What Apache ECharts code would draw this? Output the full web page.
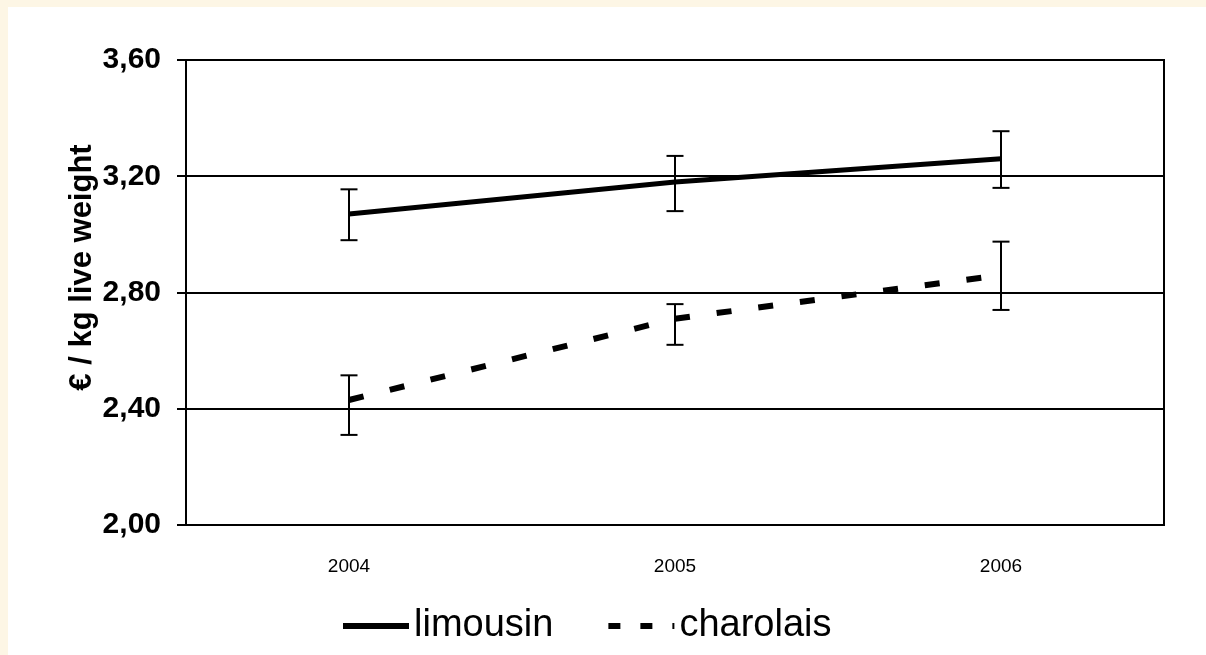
<!DOCTYPE html>
<html>
<head>
<meta charset="utf-8">
<script src="https://cdn.jsdelivr.net/npm/echarts@6/dist/echarts.min.js"></script>
<style>
  html, body { margin: 0; padding: 0; background: #fdf6e5; width: 1206px; height: 655px; overflow: hidden; }
  #chart { position: absolute; left: 8px; top: 7px; width: 1198px; height: 648px; background: #fff; }
</style>
</head>
<body>
<div id="chart"></div>
<script>
// data
var years = ['2004', '2005', '2006'];
var limousin = [3.07, 3.18, 3.26];
var limousinLow = [2.98, 3.08, 3.16];
var limousinHigh = [3.155, 3.27, 3.355];
var charolais = [2.43, 2.71, 2.86];
var charolaisLow = [2.31, 2.62, 2.74];
var charolaisHigh = [2.515, 2.76, 2.975];

function errData(low, high) {
    var res = [];
    for (var i = 0; i < low.length; i++) {
        res.push([i, low[i], high[i]]);
    }
    return res;
}

// error bar: vertical line with caps
function renderErr(params, api) {
    var x = api.value(0);
    var lo = api.coord([x, api.value(1)]);
    var hi = api.coord([x, api.value(2)]);
    var half = 8.5;
    var style = { stroke: '#000', lineWidth: 2 };
    return {
        type: 'group',
        children: [
            { type: 'line', shape: { x1: hi[0], y1: hi[1], x2: lo[0], y2: lo[1] }, style: style },
            { type: 'line', shape: { x1: hi[0] - half, y1: hi[1], x2: hi[0] + half, y2: hi[1] }, style: style },
            { type: 'line', shape: { x1: lo[0] - half, y1: lo[1], x2: lo[0] + half, y2: lo[1] }, style: style }
        ]
    };
}

var chart = echarts.init(document.getElementById('chart'));
var option = {
    animation: false,
    backgroundColor: '#fff',
    grid: {
        left: 178, right: 42, top: 53, bottom: 130,
        show: true, borderColor: '#000', borderWidth: 2, backgroundColor: 'transparent'
    },
    legend: {
        data: [
            { name: 'limousin' },
            { name: 'charolais', lineStyle: { type: [12, 20] } }
        ],
        left: 327,
        top: 595,
        itemWidth: 66,
        itemHeight: 6,
        itemGap: 52,
        itemStyle: { opacity: 0 },
        lineStyle: { width: 6 },
        textStyle: { fontFamily: '"Liberation Sans", Arial, sans-serif', fontSize: 38, color: '#000' }
    },
    xAxis: {
        type: 'category',
        data: years,
        boundaryGap: true,
        axisLine: { lineStyle: { color: '#000', width: 2 } },
        axisTick: { length: 8, lineStyle: { color: '#000', width: 2 } },
        axisLabel: { margin: 32, fontSize: 19, color: '#000', fontFamily: '"Liberation Sans", Arial, sans-serif' }
    },
    yAxis: {
        type: 'value',
        min: 2.0,
        max: 3.6,
        interval: 0.4,
        name: '€ / kg live weight',
        nameLocation: 'middle',
        nameGap: 88,
        nameMoveOverlap: false,
        nameTextStyle: {
            fontSize: 31, fontWeight: 'bold', color: '#000',
            fontFamily: '"Liberation Sans", Arial, sans-serif',
            padding: [0, 0, 0, 50]
        },
        axisLine: { show: true, lineStyle: { color: '#000', width: 2 } },
        axisTick: { show: true, length: 9, lineStyle: { color: '#000', width: 2 } },
        splitLine: { lineStyle: { color: '#000', width: 2 } },
        axisLabel: {
            margin: 25,
            fontSize: 30,
            fontWeight: 'bold',
            color: '#000',
            fontFamily: '"Liberation Sans", Arial, sans-serif',
            formatter: function (v) { return v.toFixed(2).replace('.', ','); }
        }
    },
    series: [
        {
            name: 'limousin',
            type: 'line',
            data: limousin,
            symbol: 'none',
            itemStyle: { color: '#000' },
            lineStyle: { color: '#000', width: 5 }
        },
        {
            name: 'charolais',
            type: 'line',
            data: charolais,
            symbol: 'none',
            itemStyle: { color: '#000' },
            lineStyle: { color: '#000', width: 6, type: [15, 27] }
        },
        {
            name: 'limousinErr',
            type: 'custom',
            renderItem: renderErr,
            encode: { x: 0, y: [1, 2] },
            data: errData(limousinLow, limousinHigh),
            z: 3
        },
        {
            name: 'charolaisErr',
            type: 'custom',
            renderItem: renderErr,
            encode: { x: 0, y: [1, 2] },
            data: errData(charolaisLow, charolaisHigh),
            z: 3
        }
    ]
};
chart.setOption(option);
</script>
</body>
</html>
